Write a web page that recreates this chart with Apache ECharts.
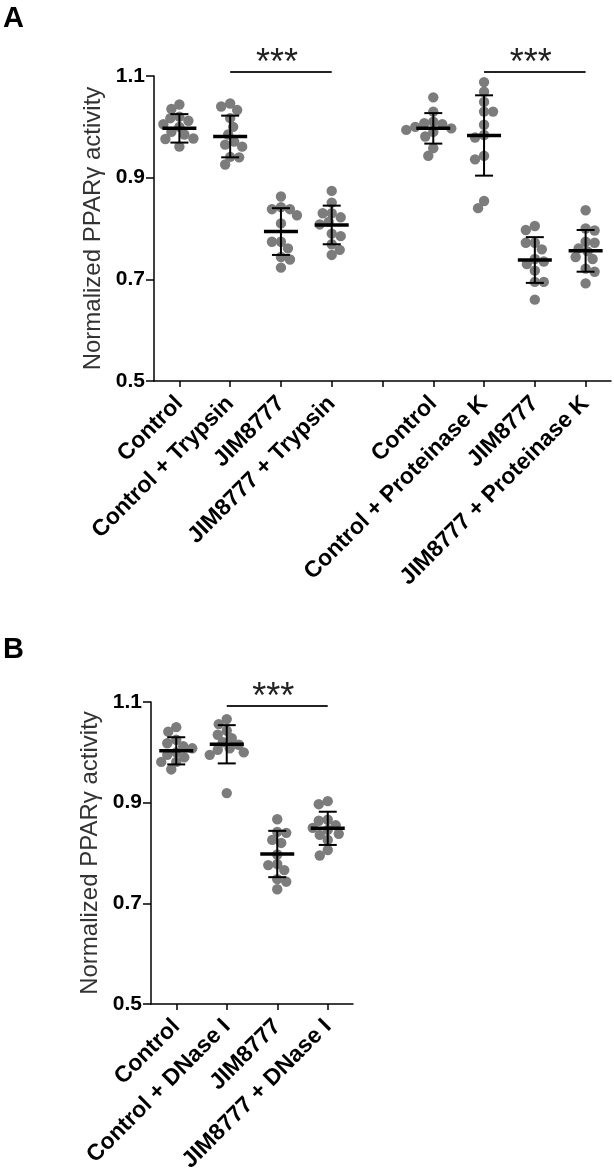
<!DOCTYPE html>
<html><head><meta charset="utf-8">
<script src="https://cdn.jsdelivr.net/npm/echarts/dist/echarts.min.js"></script>
<style>html,body{margin:0;padding:0;background:#fff}#c{width:614px;height:1173px}</style>
</head><body><div id="c"></div><script>
// ---------- data ----------
const categoriesA = ['Control', 'Control + Trypsin', 'JIM8777', 'JIM8777 + Trypsin', '',
  'Control', 'Control + Proteinase K', 'JIM8777', 'JIM8777 + Proteinase K'];
const categoriesB = ['Control', 'Control + DNase I', 'JIM8777', 'JIM8777 + DNase I'];
const yTicks = [0.5, 0.7, 0.9, 1.1];

const valuesA = [
  [1.044, 1.035, 1.02, 1.017, 1.012, 1.005, 1.0, 0.99, 0.985, 0.977, 0.976, 0.961],
  [1.046, 1.04, 1.033, 1.017, 1.0, 0.985, 0.971, 0.965, 0.961, 0.941, 0.94, 0.926],
  [0.863, 0.842, 0.838, 0.838, 0.826, 0.81, 0.774, 0.774, 0.761, 0.744, 0.739, 0.723],
  [0.874, 0.851, 0.83, 0.83, 0.822, 0.813, 0.808, 0.79, 0.785, 0.769, 0.758, 0.748],
  [1.058, 1.03, 1.01, 1.007, 1.005, 1.0, 0.997, 0.994, 0.99, 0.981, 0.958, 0.943],
  [1.088, 1.069, 1.049, 1.03, 1.03, 1.004, 0.984, 0.979, 0.943, 0.936, 0.854, 0.84],
  [0.805, 0.797, 0.772, 0.772, 0.759, 0.74, 0.735, 0.73, 0.717, 0.695, 0.695, 0.66],
  [0.836, 0.8, 0.796, 0.774, 0.772, 0.761, 0.755, 0.744, 0.74, 0.721, 0.715, 0.692]
];
const meansA = [0.997, 0.981, 0.794, 0.807, 0.997, 0.983, 0.738, 0.756];
const sdA = [0.028, 0.041, 0.046, 0.038, 0.030, 0.079, 0.045, 0.041];

const valuesB = [
  [1.05, 1.041, 1.025, 1.018, 1.012, 1.008, 1.0, 0.995, 0.99, 0.981, 0.981, 0.966],
  [1.066, 1.056, 1.043, 1.035, 1.028, 1.02, 1.015, 1.008, 1.005, 1.0, 0.995, 0.919],
  [0.867, 0.842, 0.84, 0.826, 0.82, 0.797, 0.778, 0.776, 0.766, 0.748, 0.743, 0.728],
  [0.903, 0.897, 0.866, 0.864, 0.855, 0.85, 0.846, 0.838, 0.836, 0.826, 0.806, 0.795]
];
const meansB = [1.003, 1.016, 0.798, 0.849];
const sdB = [0.027, 0.038, 0.046, 0.033];

const sigA = [{from: 1, to: 3, level: 1.108, label: '***'}, {from: 6, to: 8, level: 1.108, label: '***'}];
const sigB = [{from: 1, to: 3, level: 1.092, label: '***'}];

// ---------- helpers ----------
const FONT = '"Liberation Sans", Arial, Helvetica, sans-serif';
const groupCats = cats => cats.map((c, i) => c === '' ? -1 : i).filter(i => i >= 0);
const catsA = groupCats(categoriesA);
const catsB = groupCats(categoriesB);

function swarm(ys, cx, minDist) {
  const order = ys.map((y, i) => i).sort((a, b) => ys[a] - ys[b]);
  const xs = new Array(ys.length);
  const placed = [];
  let flip = 1;
  order.forEach(i => {
    const y = ys[i];
    let chosen = cx;
    for (let k = 0; k < 60; k++) {
      const cands = k === 0 ? [0] : [k * flip, -k * flip];
      let ok = null;
      for (const o of cands) {
        const x = cx + o;
        if (placed.every(p => (p[0] - x) ** 2 + (p[1] - y) ** 2 >= minDist * minDist)) { ok = x; break; }
      }
      if (ok !== null) { chosen = ok; break; }
    }
    flip = -flip;
    xs[i] = chosen;
    placed.push([chosen, y]);
  });
  return xs;
}

function dotsRender(values) {
  return function (params, api) {
    const cat = api.value(0);
    const pts = values[params.dataIndex].map(v => api.coord([cat, v]));
    const xs = swarm(pts.map(p => p[1]), pts[0][0], 9);
    return {type: 'group', children: pts.map((p, i) => ({
      type: 'circle', shape: {cx: xs[i], cy: p[1], r: 5.2}, style: {fill: '#7c7c7c'}
    }))};
  };
}

function errRender(means, sds) {
  return function (params, api) {
    const cat = api.value(0), i = params.dataIndex;
    const c = api.coord([cat, means[i]]);
    const t = api.coord([cat, means[i] + sds[i]]);
    const b = api.coord([cat, means[i] - sds[i]]);
    const st = {stroke: '#000', lineWidth: 2};
    return {type: 'group', children: [
      {type: 'line', shape: {x1: c[0], y1: t[1], x2: c[0], y2: b[1]}, style: st},
      {type: 'line', shape: {x1: c[0] - 9, y1: t[1], x2: c[0] + 9, y2: t[1]}, style: st},
      {type: 'line', shape: {x1: c[0] - 9, y1: b[1], x2: c[0] + 9, y2: b[1]}, style: st},
      {type: 'line', shape: {x1: c[0] - 17, y1: c[1], x2: c[0] + 17, y2: c[1]}, style: {stroke: '#000', lineWidth: 3.5}}
    ]};
  };
}

function sigRender(sig) {
  return function (params, api) {
    const s = sig[params.dataIndex];
    const p1 = api.coord([s.from, s.level]);
    const p2 = api.coord([s.to, s.level]);
    return {type: 'group', children: [
      {type: 'line', shape: {x1: p1[0], y1: p1[1], x2: p2[0], y2: p2[1]}, style: {stroke: '#222', lineWidth: 2}},
      {type: 'text', x: (p1[0] + p2[0]) / 2 - 4, y: p1[1] - 8,
        style: {text: s.label, fontSize: 36, fontFamily: FONT, fill: '#222', align: 'center', verticalAlign: 'middle'}}
    ]};
  };
}

function xAxisOpt(gridIndex, cats) {
  return {
    type: 'category', gridIndex, data: cats, boundaryGap: true,
    axisLine: {show: true, lineStyle: {color: '#000', width: 1.5}},
    axisTick: {show: true, alignWithLabel: true, interval: 0, length: 6, lineStyle: {color: '#000', width: 1.5}},
    axisLabel: {rotate: 45, interval: 0, margin: 19, fontSize: 23, fontWeight: 'bold', color: '#000', fontFamily: FONT},
    splitLine: {show: false}
  };
}
function yAxisOpt(gridIndex) {
  return {
    type: 'value', gridIndex, min: yTicks[0], max: yTicks[yTicks.length - 1],
    interval: yTicks[1] - yTicks[0],
    name: 'Normalized PPARγ activity', nameLocation: 'middle', nameGap: 49,
    nameTextStyle: {fontSize: 24, color: '#333', fontFamily: FONT},
    axisLine: {show: true, lineStyle: {color: '#000', width: 1.5}},
    axisTick: {show: true, length: 8, lineStyle: {color: '#000', width: 1.5}},
    axisLabel: {margin: 9, fontSize: 21, fontWeight: 'bold', color: '#000', fontFamily: FONT,
      formatter: v => v.toFixed(1)},
    splitLine: {show: false}
  };
}

const chart = echarts.init(document.getElementById('c'), null, {renderer: 'canvas'});
chart.setOption({
  animation: false,
  backgroundColor: '#fff',
  graphic: [
    {type: 'text', left: 3, top: 4, style: {text: 'A', font: 'bold 29px ' + FONT, fill: '#000'}},
    {type: 'text', left: 3, top: 635, style: {text: 'B', font: 'bold 29px ' + FONT, fill: '#000'}}
  ],
  grid: [
    {left: 154, top: 76, width: 457, height: 305, containLabel: false, outerBoundsMode: 'none'},
    {left: 151, top: 702, width: 202, height: 302, containLabel: false, outerBoundsMode: 'none'}
  ],
  xAxis: [xAxisOpt(0, categoriesA), xAxisOpt(1, categoriesB)],
  yAxis: [yAxisOpt(0), yAxisOpt(1)],
  series: [
    {type: 'custom', xAxisIndex: 0, yAxisIndex: 0, renderItem: dotsRender(valuesA),
      data: catsA.map((c, i) => [c, meansA[i]]), encode: {x: 0, y: 1}, z: 2},
    {type: 'custom', xAxisIndex: 0, yAxisIndex: 0, renderItem: errRender(meansA, sdA),
      data: catsA.map((c, i) => [c, meansA[i]]), encode: {x: 0, y: 1}, z: 3},
    {type: 'custom', xAxisIndex: 0, yAxisIndex: 0, renderItem: sigRender(sigA), clip: false,
      data: sigA.map(s => [s.from, s.to, s.level]), encode: {x: [0, 1], y: 2}, z: 4},
    {type: 'custom', xAxisIndex: 1, yAxisIndex: 1, renderItem: dotsRender(valuesB),
      data: catsB.map((c, i) => [c, meansB[i]]), encode: {x: 0, y: 1}, z: 2},
    {type: 'custom', xAxisIndex: 1, yAxisIndex: 1, renderItem: errRender(meansB, sdB),
      data: catsB.map((c, i) => [c, meansB[i]]), encode: {x: 0, y: 1}, z: 3},
    {type: 'custom', xAxisIndex: 1, yAxisIndex: 1, renderItem: sigRender(sigB), clip: false,
      data: sigB.map(s => [s.from, s.to, s.level]), encode: {x: [0, 1], y: 2}, z: 4}
  ]
});
</script></body></html>
